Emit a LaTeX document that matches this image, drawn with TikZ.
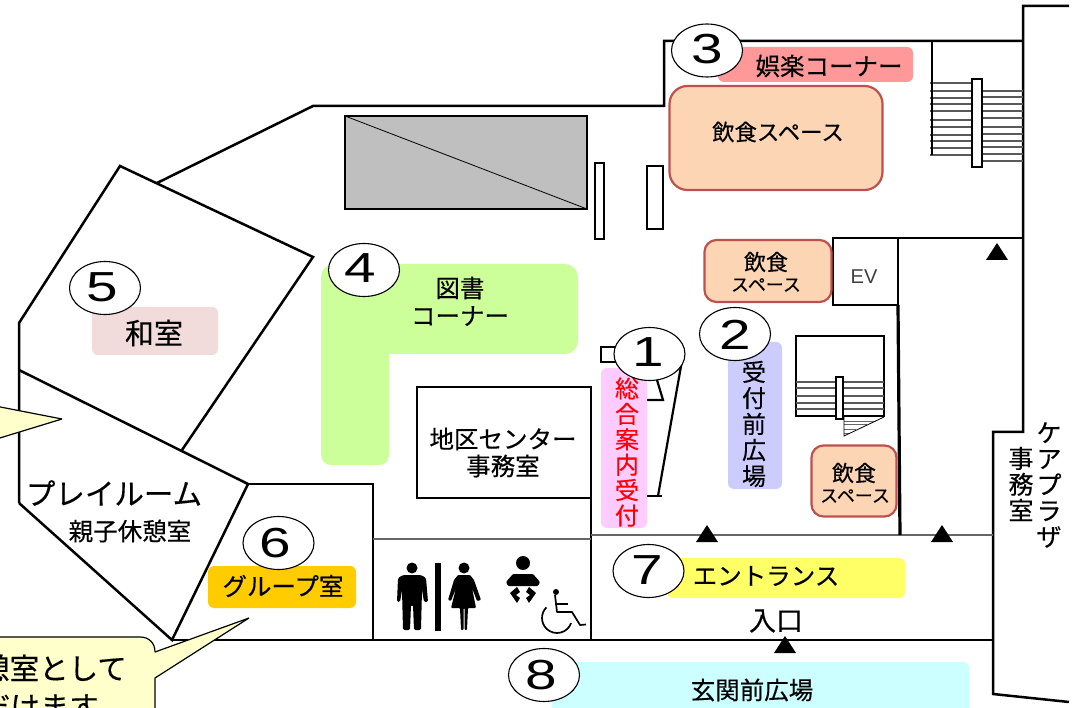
\documentclass[tikz,border=0pt]{standalone}
\usepackage{fontspec}
\setmainfont{Noto Sans CJK JP}[FakeBold=0.3]
\newfontfamily\latinfont{Liberation Sans}
\usetikzlibrary{shapes.geometric}
\definecolor{foodfill}{HTML}{FCD5B5}
\definecolor{foodline}{HTML}{C0504D}
\definecolor{greenfill}{HTML}{CCFF99}
\definecolor{callfill}{HTML}{FFFFCC}
\newcommand{\fs}[1]{\fontsize{#1}{#1}\selectfont}
\tikzset{
  wall/.style={draw=black,line width=2.5pt,line join=miter},
  thin wall/.style={draw=black!60,line width=1.4pt},
  step line/.style={draw=black!65,line width=1.2pt},
  colorbox/.style={rectangle,rounded corners=6pt,inner sep=0pt,draw=none},
  foodbox/.style={rectangle,rounded corners=#1,inner sep=0pt,fill=foodfill,draw=foodline,line width=2.2pt},
  foodbox/.default=12pt,
  lab/.style={inner sep=0pt,text=black},
  numcirc/.style={ellipse,draw=black,line width=1.1pt,fill=white,minimum width=71pt,minimum height=53pt,inner sep=0pt},
  digit/.style={inner sep=0pt,font=\latinfont\fs{42}},
  uptri/.style={fill=black},
  callout/.style={draw=black,line width=1.2pt,fill=callfill,line join=bevel},
}
\newcommand{\num}[1]{\scalebox{1.35}[1]{#1}}
\begin{document}
\begin{tikzpicture}[x=1pt,y=-1pt]
\useasboundingbox (0,0) rectangle (1082,708);
\clip (0,0) rectangle (1082,708);
\fill[white] (0,0) rectangle (1082,708);

% coloured floor label (L shape with a sharp inner corner)
\fill[greenfill,rounded corners=13pt] (321,264) rectangle (578,354);
\fill[greenfill,rounded corners=10pt] (321,280) rectangle (389,465);

% outer walls
\draw[wall] (157,183) -- (313,106) -- (664,106) -- (664,41) -- (1023,41);
\draw[wall] (1069,6) -- (1023,6) -- (1023,432) -- (993,432) -- (993,694) -- (1069,702);
\draw[wall] (172,640) -- (993,640);
\draw[wall] (19,503) -- (19,323) -- (120,166) -- (313,257) -- (182,450);
\draw[wall] (19,370) -- (248,484) -- (172,640) -- (19,503);
\draw[wall] (248,484) -- (373,484) -- (373,640);
\draw[wall] (591,498) -- (591,640);
\draw[wall] (417,387) rectangle (591,498);
\draw[thin wall] (373,539) -- (591,539);
\draw[thin wall] (591,535) -- (993,535);

% gray block and pillars
\draw[wall,fill=black!25] (345,116) rectangle (587,209);
\draw[draw=black,line width=0.8pt] (345,116) -- (587,209);
\draw[wall,fill=white] (595,163) rectangle (604,239);
\draw[wall,fill=white] (647,166) rectangle (663,229);

% EV and thick wall
\draw[wall] (833,238) -- (1023,238);
\draw[wall] (833,238) rectangle (898,305);
\draw[line width=3.2pt] (898,305) -- (900,535);
\node[lab,font=\latinfont\fs{20},text=black!75] (ev) at (864,277) {EV};

% triangles
\fill[uptri] (997,243) -- (1008,260) -- (986,260) -- cycle;
\fill[uptri] (942,525) -- (953,542) -- (931,542) -- cycle;
\fill[uptri] (707,525) -- (718,542) -- (696,542) -- cycle;
\fill[uptri] (785,636) -- (796,653) -- (774,653) -- cycle;

% upper stairs
\foreach \yy in {83,91,98,104,111,120,127,135,141,148,155} \draw[step line] (930,\yy) -- (972,\yy);
\foreach \yy in {91,97,104,111,118,127,134,141,147,154,161} \draw[step line] (982,\yy) -- (1023,\yy);
\draw[wall] (932,41) -- (932,155);
\draw[wall,fill=white] (972,79) rectangle (982,167);

% lower stairs
\draw[wall] (796,336) rectangle (884,416);
\foreach \yy in {382,388,396,403,409} \draw[step line] (796,\yy) -- (884,\yy);
\foreach \xx/\yy in {867/424,856/429} \draw[draw=black!60,line width=0.7pt] (844,\yy) -- (\xx,\yy);
\draw[draw=black!60,line width=0.7pt] (844,421) -- (876,421);
\draw[draw=black!60,line width=0.7pt] (844,433) -- (850,433);
\draw[draw=black,line width=0.8pt] (844,417) -- (844,436) -- (884,417);
\draw[wall,fill=white] (836,377) rectangle (843,419);

% reception counter
\draw[wall,fill=white] (601,347) rectangle (617,362);
\draw[line width=2.2pt] (657,380) -- (663,400) -- (647,400);
\draw[line width=2.2pt] (683,355) -- (658,496);
\draw[line width=2.2pt] (647,496) -- (662,496);

% coloured boxes
\node[foodbox=18pt,minimum width=213pt,minimum height=104pt] (foodA) at (776,138) {};
\node[lab,font=\fs{22.4}] (foodAt) at (778,132) {飲食スペース};
\node[colorbox,fill=red!40!white,minimum width=195pt,minimum height=35pt] (ent) at (815.5,64.5) {};
\node[lab,font=\fs{24.5}] (entt) at (829,66) {娯楽コーナー};
\node[foodbox=12pt,minimum width=127pt,minimum height=62pt] (foodB) at (768,271) {};
\node[lab,font=\fs{22}] (foodBt) at (766,262) {飲食};
\node[lab,font=\fs{18}] (foodBs) at (766,285) {スペース};
\node[foodbox=12pt,minimum width=85pt,minimum height=71pt] (foodC) at (854,481) {};
\node[lab,font=\fs{22}] (foodCt) at (854,473) {飲食};
\node[lab,font=\fs{18}] (foodCs) at (855,496) {スペース};
\node[colorbox,fill={rgb,255:red,242;green,220;blue,219},minimum width=126pt,minimum height=48pt] (wa) at (155,331) {};
\node[lab,font=\fs{29}] (wat) at (154,333) {和室};
\node[lab,font=\fs{24.5}] (lib1) at (460,288) {図書};
\node[lab,font=\fs{24.5}] (lib2) at (460,316) {コーナー};
\node[colorbox,fill={rgb,255:red,255;green,204;blue,0},minimum width=148pt,minimum height=42pt] (gr) at (282,587) {};
\node[lab,font=\fs{24.5}] (grt) at (283,586) {グループ室};
\node[colorbox,fill={rgb,255:red,255;green,204;blue,255},minimum width=46pt,minimum height=160pt] (info) at (624,448) {};
\node[lab,text=red,align=center,font=\fontsize{24}{25.4}\selectfont] (infot) at (627,452) {総\\合\\案\\内\\受\\付};
\node[colorbox,fill={rgb,255:red,204;green,204;blue,255},minimum width=54pt,minimum height=147pt] (front) at (755,415.5) {};
\node[lab,align=center,font=\fontsize{24}{26}\selectfont] (frontt) at (754,424) {受\\付\\前\\広\\場};
\node[colorbox,fill={rgb,255:red,255;green,255;blue,102},minimum width=238pt,minimum height=40pt] (en) at (786,578) {};
\node[lab,font=\fs{24.5}] (ent2) at (766,576) {エントランス};
\node[colorbox,fill={rgb,255:red,204;green,255;blue,255},minimum width=417pt,minimum height=70pt] (gen) at (760.5,697) {};
\node[lab,font=\fs{24.5}] (gent) at (752,690) {玄関前広場};
\node[lab,font=\fs{27}] (iri) at (776,621) {入口};

% plain texts
\node[lab,font=\fs{24.5}] (ch1) at (503,439) {地区センター};
\node[lab,font=\fs{24.5}] (ch2) at (503,466) {事務室};
\node[lab,font=\fs{29.5}] (pl) at (114,493) {プレイルーム};
\node[lab,font=\fs{24.5}] (oy) at (130,531) {親子休憩室};
\node[lab,align=center,font=\fontsize{25}{26}\selectfont] (care) at (1049,485) {ケ\\ア\\プ\\ラ\\ザ};
\node[lab,align=center,font=\fontsize{25}{26}\selectfont] (jim) at (1021,484) {事\\務\\室};

% toilets
\fill (412,568) circle[radius=5.5pt];
\fill[rounded corners=1.5pt] (403,575) -- (421,575) -- (426,578) -- (428,602) -- (424,602) -- (422,590) -- (421,630) -- (414,630) -- (413,605) -- (411,605) -- (410,630) -- (403,630) -- (402,590) -- (400,602) -- (397,602) -- (398,578) -- cycle;
\fill (435,563) rectangle (441,631);
\fill (464,568) circle[radius=5.5pt];
\fill[rounded corners=1pt] (458,575) -- (470,575) -- (474,580) -- (481,600) -- (477,601) -- (472,588) -- (476,608) -- (468,608) -- (467,630) -- (464.5,630) -- (464.5,608) -- (463.5,608) -- (463.5,630) -- (461,630) -- (460,608) -- (451,608) -- (456,588) -- (451,601) -- (448,600) -- (454,580) -- cycle;
% baby
\fill (523,563) circle[radius=7pt];
\fill[rounded corners=1pt] (513,574) -- (533,574) -- (540,582) -- (538,586) -- (508,586) -- (506,582) -- cycle;
\fill (510,593) -- (517,587) -- (520,592) -- (516,595) -- (520,598) -- (517,603) -- cycle;
\fill (536,593) -- (529,587) -- (526,592) -- (530,595) -- (526,598) -- (529,603) -- cycle;
% wheelchair
\fill (556,592) circle[radius=3pt];
\draw[line width=1.7pt,line join=round] (555,595) -- (557,612) -- (572,612) -- (580,625) -- (586,624.5);
\draw[line width=1.7pt] (555,604) -- (568,604);
\draw[line width=1.7pt] (546.4,607.4) arc[start angle=135,end angle=340,radius=15pt];

% callouts
\draw[callout] (-10,405) -- (62,419) -- (-10,441) -- cycle;
\draw[callout] (-10,637) -- (140,637) .. controls (149,637) and (155,643) .. (155,652) -- (249,618) -- (155,678) -- (155,730) -- (-10,730) -- cycle;
\node[lab,anchor=east,font=\fs{29.5}] (c1) at (127,668) {憩室として};
\node[lab,anchor=east,font=\fs{29.5}] (c2) at (99,707) {だけます};

% numbered circles
\node[numcirc] (n1) at (649.5,354) {};
\node[numcirc] (n2) at (735,334) {};
\node[numcirc] (n3) at (707,50.5) {};
\node[numcirc] (n4) at (364,270) {};
\node[numcirc] (n5) at (105,288) {};
\node[numcirc] (n6) at (278.5,543) {};
\node[numcirc] (n7) at (648.5,571) {};
\node[numcirc] (n8) at (544,675) {};
\node[digit] (d1) at (648,352) {\num{1}};
\node[digit] (d2) at (735,335) {\num{2}};
\node[digit] (d3) at (707,49) {\num{3}};
\node[digit] (d4) at (360,268) {\num{4}};
\node[digit] (d5) at (102,287) {\num{5}};
\node[digit] (d6) at (275,543) {\num{6}};
\node[digit] (d7) at (647,570) {\num{7}};
\node[digit] (d8) at (541,675) {\num{8}};
\end{tikzpicture}
\end{document}
